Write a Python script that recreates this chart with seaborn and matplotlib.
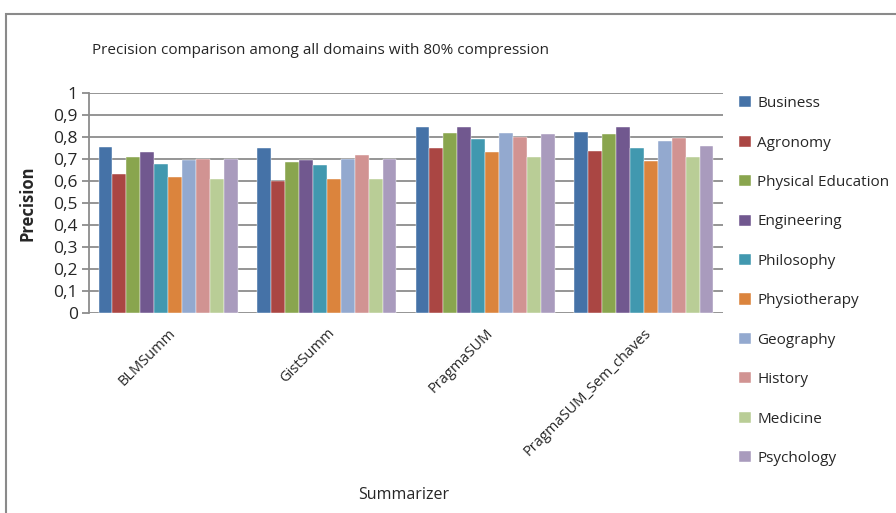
import matplotlib
matplotlib.use("Agg")
import matplotlib.pyplot as plt
from matplotlib.patches import Rectangle
from matplotlib.ticker import MultipleLocator, FuncFormatter
import seaborn as sns
import pandas as pd

summarizers = ["BLMSumm", "GistSumm", "PragmaSUM", "PragmaSUM_Sem_chaves"]
domains = ["Business", "Agronomy", "Physical Education", "Engineering", "Philosophy",
           "Physiotherapy", "Geography", "History", "Medicine", "Psychology"]

# precision per domain, one list per summarizer (domain order as above)
blmsumm = [0.754, 0.632, 0.707, 0.731, 0.679, 0.619, 0.696, 0.699, 0.609, 0.698]
gistsumm = [0.749, 0.599, 0.688, 0.695, 0.675, 0.609, 0.699, 0.720, 0.609, 0.702]
pragmasum = [0.845, 0.749, 0.818, 0.845, 0.789, 0.731, 0.818, 0.802, 0.711, 0.813]
pragmasum_sem_chaves = [0.822, 0.736, 0.813, 0.845, 0.752, 0.690, 0.781, 0.796, 0.711, 0.761]

colors = ["#4572A7", "#AA4643", "#89A54E", "#71588F", "#4198AF",
          "#DB843D", "#93A9CF", "#D19392", "#B9CD96", "#A99BBD"]

rows = []
for s, vals in zip(summarizers, [blmsumm, gistsumm, pragmasum, pragmasum_sem_chaves]):
    for d, v in zip(domains, vals):
        rows.append({"Summarizer": s, "Domain": d, "Precision": v})
df = pd.DataFrame(rows)

sns.set_theme(style="white")
plt.rcParams["font.family"] = ["Open Sans", "DejaVu Sans"]

fig = plt.figure(figsize=(8.96, 5.13), dpi=100)
W, H = 896, 513
ax = fig.add_axes([89 / W, 1 - 313 / H, (723 - 89) / W, (313 - 93) / H])

# outer chart frame
fig.patches.append(Rectangle((6 / W, -0.1), 1.2, 1 - 14 / H + 0.1, transform=fig.transFigure,
                             fill=False, edgecolor="#8a8a8a", linewidth=1.5, zorder=0))

sns.barplot(data=df, x="Summarizer", y="Precision", hue="Domain", hue_order=domains,
            order=summarizers, palette=colors, width=0.88, saturation=1,
            edgecolor="white", linewidth=0.3, errorbar=None, ax=ax, zorder=3)


def comma_fmt(v, pos):
    if abs(v - round(v)) < 1e-9:
        return str(int(round(v)))
    return f"{v:.1f}".replace(".", ",")


ax.set_ylim(0, 1)
ax.yaxis.set_major_locator(MultipleLocator(0.1))
ax.yaxis.set_major_formatter(FuncFormatter(comma_fmt))
ax.grid(axis="y", color="#8c8c8c", linewidth=1.3, zorder=0)
ax.set_axisbelow(True)
for side in ["top", "right", "bottom"]:
    ax.spines[side].set_visible(False)
ax.spines["left"].set_color("#8c8c8c")
ax.spines["left"].set_linewidth(1.3)
ax.tick_params(axis="y", which="major", length=5, color="#8c8c8c", width=1.3,
               labelsize=12.5, pad=3, left=True)
ax.tick_params(axis="x", length=0, labelsize=10.5, pad=9)
plt.setp(ax.get_xticklabels(), rotation=45, ha="right", rotation_mode="anchor")

ax.set_ylabel("Precision", fontsize=12, fontweight="bold", labelpad=12)
ax.set_xlabel("")
fig.text(404 / W, 1 - 495 / H, "Summarizer", ha="center", va="center", fontsize=11.5)
fig.text(92 / W, 1 - 50 / H, "Precision comparison among all domains with 80% compression",
         ha="left", va="center", fontsize=11)

handles, labels = ax.get_legend_handles_labels()
ax.legend_.remove()
fig.legend(handles, labels, loc="upper left", bbox_to_anchor=(733 / W, 1 - 90 / H),
           frameon=False, fontsize=11, labelspacing=1.6, handlelength=0.75,
           handleheight=0.75, handletextpad=0.45, borderaxespad=0)

fig.savefig("out.png", dpi=100)
